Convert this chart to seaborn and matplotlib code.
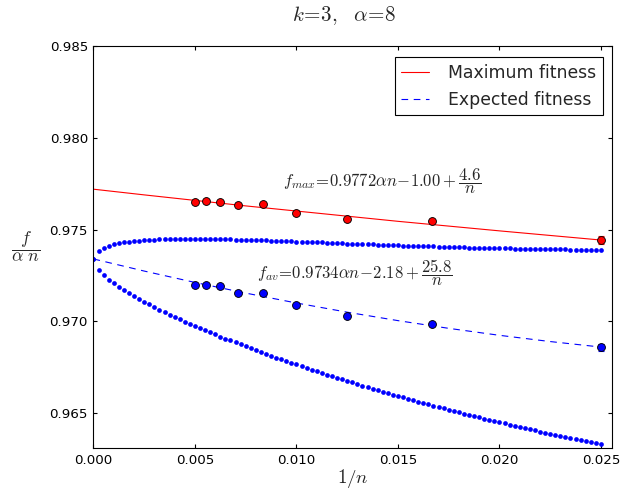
import numpy as np
import matplotlib
matplotlib.use("Agg")
import matplotlib.pyplot as plt
from matplotlib.ticker import FormatStrFormatter
import seaborn as sns

# simulated sizes n (x axis is 1/n)
n_sizes = [200, 180, 160, 140, 120, 100, 80, 60, 40]
max_fit = [0.97649, 0.97656, 0.97651, 0.97632, 0.97642, 0.97591, 0.97556, 0.97545, 0.97442]
max_err = [0.00006, 0.00006, 0.00006, 0.00006, 0.00007, 0.00008, 0.00009, 0.0001, 0.00022]
exp_fit = [0.97200, 0.97200, 0.97191, 0.97157, 0.97153, 0.97087, 0.97031, 0.96986, 0.96858]
exp_err = [0.00006, 0.00006, 0.00006, 0.00006, 0.00007, 0.00008, 0.00009, 0.0001, 0.0002]

fit_x = [0.0, 0.0025, 0.005, 0.0075, 0.01, 0.0125, 0.015, 0.0175, 0.02, 0.0225, 0.025]
fit_max = [0.97720, 0.97689, 0.97659, 0.97629, 0.97601, 0.97573, 0.97545, 0.97519, 0.97493, 0.97468, 0.97443]
fit_exp = [0.97340, 0.97274, 0.97212, 0.97154, 0.97100, 0.97050, 0.97004, 0.96962, 0.96924, 0.96890, 0.96860]

# dotted bounds, 101 dots from 1/n = 0 to 0.025 (values in 1e-5)
band_upper = [
    97340, 97386, 97401, 97411, 97419, 97425, 97430, 97433, 97437, 97439,
    97441, 97443, 97445, 97446, 97447, 97447, 97448, 97448, 97449, 97449,
    97449, 97449, 97448, 97448, 97448, 97447, 97447, 97446, 97445, 97445,
    97444, 97443, 97442, 97441, 97441, 97440, 97439, 97438, 97437, 97436,
    97435, 97434, 97433, 97432, 97431, 97430, 97429, 97427, 97426, 97425,
    97424, 97423, 97422, 97421, 97420, 97419, 97418, 97417, 97416, 97415,
    97414, 97413, 97412, 97411, 97410, 97409, 97408, 97408, 97407, 97406,
    97405, 97404, 97403, 97403, 97402, 97401, 97400, 97400, 97399, 97398,
    97398, 97397, 97397, 97396, 97395, 97395, 97394, 97394, 97393, 97393,
    97393, 97392, 97392, 97392, 97391, 97391, 97391, 97391, 97390, 97390,
    97390]
band_lower = [
    97340, 97280, 97252, 97228, 97207, 97188, 97170, 97153, 97137, 97121,
    97106, 97092, 97078, 97064, 97050, 97037, 97024, 97012, 96999, 96987,
    96975, 96963, 96951, 96940, 96929, 96917, 96906, 96896, 96885, 96874,
    96864, 96853, 96843, 96833, 96823, 96813, 96803, 96793, 96784, 96774,
    96765, 96755, 96746, 96737, 96728, 96719, 96710, 96701, 96692, 96684,
    96675, 96667, 96658, 96650, 96642, 96633, 96625, 96617, 96609, 96601,
    96594, 96586, 96578, 96570, 96563, 96555, 96548, 96540, 96533, 96526,
    96519, 96512, 96505, 96498, 96491, 96484, 96477, 96470, 96463, 96457,
    96450, 96444, 96437, 96431, 96425, 96418, 96412, 96406, 96400, 96394,
    96388, 96382, 96376, 96370, 96364, 96358, 96353, 96347, 96342, 96336,
    96331]

sns.set_style("ticks", {"xtick.direction": "in", "ytick.direction": "in",
                        "axes.edgecolor": "black"})
plt.rcParams['font.family'] = ['DejaVu Sans']
plt.rcParams['mathtext.fontset'] = 'cm'

inv_n = 1.0 / np.array(n_sizes)
band_x = np.linspace(0, 0.025, len(band_upper))
upper = np.array(band_upper) / 1e5
lower = np.array(band_lower) / 1e5

fig = plt.figure(figsize=(629 / 80, 489 / 80), dpi=80)
ax = fig.add_axes([0.1486, 0.0838, 0.8239, 0.8221])

sns.lineplot(x=fit_x, y=fit_max, color='red', lw=1, ax=ax, label='Maximum fitness')
sns.lineplot(x=fit_x, y=fit_exp, color='blue', lw=1, ax=ax, label='Expected fitness',
             linestyle='--', dashes=False)
ax.lines[-1].set_dashes((6, 5))

sns.scatterplot(x=band_x, y=upper, color='blue', s=18, linewidth=0, ax=ax)
sns.scatterplot(x=band_x, y=lower, color='blue', s=18, linewidth=0, ax=ax)

ax.errorbar(inv_n, max_fit, yerr=max_err, fmt='none', ecolor='red', capsize=3, lw=1)
ax.errorbar(inv_n, exp_fit, yerr=exp_err, fmt='none', ecolor='blue', capsize=3, lw=1)
sns.scatterplot(x=inv_n, y=max_fit, color='red', s=50, edgecolor='black', linewidth=0.8, ax=ax, zorder=5)
sns.scatterplot(x=inv_n, y=exp_fit, color='blue', s=50, edgecolor='black', linewidth=0.8, ax=ax, zorder=5)

ax.text(0.00933, 0.97762, r'$f_{max}\!=\!0.9772\alpha n\!-\!1.00+\dfrac{4.6}{n}$',
        fontsize=15, va='center', ha='left')
ax.text(0.00805, 0.97266, r'$f_{av}\!=\!0.9734\alpha n\!-\!2.18+\dfrac{25.8}{n}$',
        fontsize=15, va='center', ha='left')

ax.set_xlim(0, 0.02553)
ax.set_ylim(0.9631, 0.985)
ax.set_xticks([0.0, 0.005, 0.01, 0.015, 0.02, 0.025])
ax.set_yticks([0.965, 0.97, 0.975, 0.98, 0.985])
ax.xaxis.set_major_formatter(FormatStrFormatter('%.3f'))
ax.yaxis.set_major_formatter(FormatStrFormatter('%.3f'))
ax.tick_params(top=True, right=True, direction='in', length=4, width=1,
               labelsize=12, pad=5, colors='black')
for sp in ax.spines.values():
    sp.set_linewidth(1)
    sp.set_color('black')

ax.set_title(r'$k\!=\!3,\ \ \alpha\!=\!8$', fontsize=19, x=0.484, y=1.045)
ax.set_xlabel(r'$1/n$', fontsize=17, va='center')
ax.xaxis.set_label_coords(0.5, -0.077)
ax.set_ylabel(r'$\dfrac{f}{\alpha\ n}$', fontsize=16, rotation=0, va='center', ha='center')
ax.yaxis.set_label_coords(-0.13, 0.5)

leg = ax.legend(loc='upper right', bbox_to_anchor=(0.9832, 0.9726), borderaxespad=0,
                fontsize=15.5, fancybox=False, framealpha=1, edgecolor='black',
                handlelength=1.6, handletextpad=1.1, borderpad=0.4, labelspacing=0.5)
leg.get_frame().set_linewidth(1)

fig.savefig('out.png', dpi=80)
